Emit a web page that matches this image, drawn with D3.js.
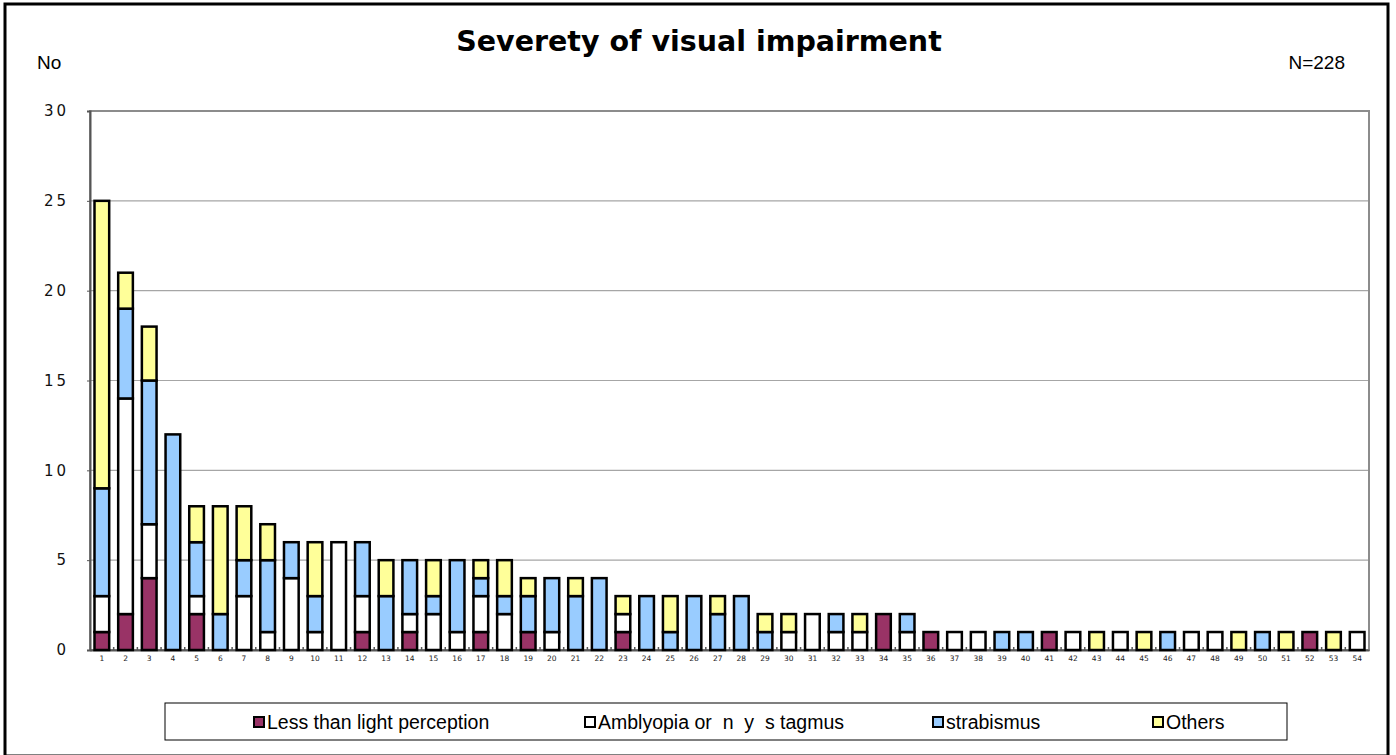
<!DOCTYPE html>
<html><head><meta charset="utf-8">
<script src="https://cdn.jsdelivr.net/npm/d3@7"></script>
<style>body{margin:0;background:#fff}svg{display:block}</style>
</head><body>
<svg id="c" width="1396" height="755"></svg>
<script>
const categories = d3.range(1, 55).map(String);
const lessThanLight = [1,2,4,0,2,0,0,0,0,0, 0,1,0,1,0,0,1,0,1,0, 0,0,1,0,0,0,0,0,0,0, 0,0,0,2,0,1,0,0,0,0, 1,0,0,0,0,0,0,0,0,0, 0,1,0,0];
const amblyopia     = [2,12,3,0,1,0,3,1,4,1, 6,2,0,1,2,1,2,2,0,1, 0,0,1,0,0,0,0,0,0,1, 2,1,1,0,1,0,1,1,0,0, 0,1,0,1,0,0,1,1,0,0, 0,0,0,1];
const strabismus    = [6,5,8,12,3,2,2,4,2,2, 0,3,3,3,1,4,1,1,2,3, 3,4,0,3,1,3,2,3,1,0, 0,1,0,0,1,0,0,0,1,1, 0,0,0,0,0,1,0,0,0,1, 0,0,0,0];
const others        = [16,2,3,0,2,6,3,2,0,3, 0,0,2,0,2,0,1,2,1,0, 1,0,1,0,2,0,1,0,1,1, 0,0,1,0,0,0,0,0,0,0, 0,0,1,0,1,0,0,0,1,0, 1,0,1,0];
const seriesNames = ["Less than light perception", "Amblyopia or  n  y  s tagmus", "strabismus", "Others"];
const seriesColors = ["#993366", "#ffffff", "#99ccff", "#ffff99"];
const yTicks = [0,5,10,15,20,25,30];

const svg = d3.select("#c");
const m = {left: 90, right: 1369, top: 111, bottom: 650};

// outer frame
svg.append("rect").attr("x", 5).attr("y", 4).attr("width", 1383).attr("height", 752)
  .attr("fill", "#fff").attr("stroke", "#000").attr("stroke-width", 3);

const data = categories.map((c, i) => ({cat: c, s0: lessThanLight[i], s1: amblyopia[i], s2: strabismus[i], s3: others[i]}));
const keys = ["s0","s1","s2","s3"];
const stacked = d3.stack().keys(keys)(data);

const x = d3.scaleBand().domain(categories).range([m.left, m.right]).paddingInner(0.38).paddingOuter(0.19);
const y = d3.scaleLinear().domain([0, 30]).range([m.bottom, m.top]);

// gridlines
svg.append("g").selectAll("line").data(yTicks.filter(t => t > 0)).join("line")
  .attr("x1", m.left).attr("x2", m.right).attr("y1", d => y(d)).attr("y2", d => y(d))
  .attr("stroke", "#a6a6a6").attr("stroke-width", 1.2);

// plot area border
svg.append("rect").attr("x", m.left).attr("y", m.top).attr("width", m.right - m.left).attr("height", m.bottom - m.top)
  .attr("fill", "none").attr("stroke", "#8c8c8c").attr("stroke-width", 2);

// y axis
const yAxis = d3.axisLeft(y).tickValues(yTicks).tickSize(3).tickPadding(18).tickFormat(d3.format("d"));
const gy = svg.append("g").attr("transform", `translate(${m.left},0)`).call(yAxis);
gy.select(".domain").attr("stroke", "#555").attr("stroke-width", 2);
gy.selectAll(".tick line").attr("stroke", "#555");
gy.selectAll("text").attr("font-family", "DejaVu Sans, Verdana, sans-serif").attr("font-size", 15)
  .attr("letter-spacing", "3px").attr("fill", "#111");

// x axis
const xAxis = d3.axisBottom(x).tickSize(0).tickPadding(6);
const gx = svg.append("g").attr("transform", `translate(0,${m.bottom})`).call(xAxis);
gx.select(".domain").attr("stroke", "#555").attr("stroke-width", 2);
gx.selectAll("text").attr("font-family", "DejaVu Sans, Verdana, sans-serif").attr("font-size", 7.5).attr("fill", "#222");
const step = x.step();
svg.append("g").selectAll("line").data(categories.slice(0, -1)).join("line")
  .attr("x1", d => x(d) + x.bandwidth() + (step - x.bandwidth()) / 2)
  .attr("x2", d => x(d) + x.bandwidth() + (step - x.bandwidth()) / 2)
  .attr("y1", m.bottom - 3).attr("y2", m.bottom).attr("stroke", "#555").attr("stroke-width", 1.5);

// bars
const gb = svg.append("g");
stacked.forEach((layer, li) => {
  gb.append("g").selectAll("rect").data(layer.filter(d => d[1] - d[0] > 0)).join("rect")
    .attr("x", d => x(d.data.cat)).attr("width", x.bandwidth())
    .attr("y", d => y(d[1])).attr("height", d => y(d[0]) - y(d[1]))
    .attr("fill", seriesColors[li]).attr("stroke", "#000").attr("stroke-width", 2.5);
});

// title and labels
svg.append("text").attr("x", 699).attr("y", 51).attr("text-anchor", "middle")
  .attr("font-family", "DejaVu Sans, Verdana, sans-serif").attr("font-weight", "bold").attr("font-size", 28.5)
  .text("Severety of visual impairment");
svg.append("text").attr("x", 37).attr("y", 69)
  .attr("font-family", "Liberation Sans, Arial, sans-serif").attr("font-size", 19).text("No");
svg.append("text").attr("x", 1345).attr("y", 69).attr("text-anchor", "end")
  .attr("font-family", "Liberation Sans, Arial, sans-serif").attr("font-size", 19).text("N=228");

// legend
svg.append("rect").attr("x", 165).attr("y", 703).attr("width", 1122).attr("height", 37)
  .attr("fill", "#fff").attr("stroke", "#000").attr("stroke-width", 1);
const legX = [254, 585, 933, 1153];
const lg = svg.append("g").selectAll("g").data(seriesNames).join("g")
  .attr("transform", (d, i) => `translate(${legX[i]},722)`);
lg.append("rect").attr("x", 0).attr("y", -5).attr("width", 10).attr("height", 10)
  .attr("fill", (d, i) => seriesColors[i]).attr("stroke", "#000").attr("stroke-width", 2);
lg.append("text").attr("x", 13).attr("y", 7).style("white-space", "pre")
  .attr("font-family", "Liberation Sans, Arial, sans-serif").attr("font-size", 19.5)
  .text(d => d);
</script>
</body></html>
